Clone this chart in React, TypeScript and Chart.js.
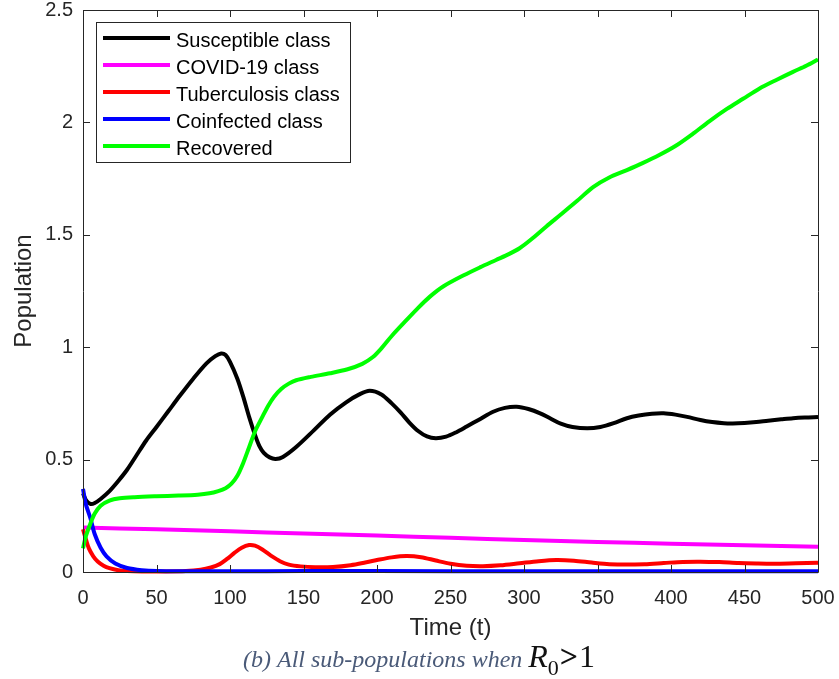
import React, { useEffect, useRef } from 'react';
import { Chart, registerables } from 'chart.js';

Chart.register(...registerables);

// ---------- data ----------
const xTicks = [0, 50, 100, 150, 200, 250, 300, 350, 400, 450, 500];
const yTicks = [0, 0.5, 1, 1.5, 2, 2.5];

const seriesLabels = ['Susceptible class', 'COVID-19 class', 'Tuberculosis class', 'Coinfected class', 'Recovered'];
const seriesColors = ['#000000', '#ff00ff', '#ff0000', '#0000ff', '#00ff00'];

const susceptibleT = [0, 2, 5, 8, 12, 18, 24, 30, 36, 43, 50, 58, 66, 75, 84, 90, 94, 97, 100, 105, 109, 113, 117, 120, 123, 127, 131, 136, 145, 157, 168, 179, 188, 195, 203, 210, 216, 222, 228, 234, 240, 247, 254, 261, 270, 279, 287, 295, 303, 311, 318, 325, 333, 343, 352, 361, 370, 378, 387, 395, 403, 411, 420, 428, 436, 442, 450, 458, 466, 475, 483, 491, 500];
const susceptibleY = [0.35, 0.32, 0.303, 0.307, 0.325, 0.36, 0.405, 0.455, 0.515, 0.585, 0.645, 0.715, 0.785, 0.86, 0.928, 0.96, 0.972, 0.965, 0.935, 0.86, 0.78, 0.69, 0.61, 0.56, 0.53, 0.51, 0.503, 0.512, 0.556, 0.63, 0.7, 0.755, 0.79, 0.806, 0.79, 0.75, 0.71, 0.665, 0.627, 0.603, 0.595, 0.602, 0.622, 0.647, 0.68, 0.713, 0.73, 0.735, 0.725, 0.706, 0.683, 0.66, 0.645, 0.639, 0.645, 0.662, 0.684, 0.696, 0.704, 0.706, 0.7, 0.69, 0.676, 0.667, 0.662, 0.661, 0.663, 0.667, 0.673, 0.679, 0.684, 0.687, 0.689];

const covidT = [0, 50, 100, 150, 200, 250, 300, 350, 400, 450, 500];
const covidY = [0.198, 0.19, 0.181, 0.171, 0.162, 0.152, 0.142, 0.134, 0.126, 0.119, 0.112];

const tbT = [0, 2, 4, 7, 10, 14, 18, 24, 30, 40, 55, 70, 80, 87, 93, 98, 103, 108, 113, 117, 122, 128, 134, 140, 148, 158, 170, 182, 192, 200, 210, 220, 230, 240, 250, 261, 272, 284, 297, 310, 322, 334, 346, 358, 370, 382, 395, 408, 420, 433, 446, 458, 470, 485, 500];
const tbY = [0.19, 0.145, 0.105, 0.07, 0.047, 0.028, 0.017, 0.008, 0.004, 0.002, 0.002, 0.004, 0.01, 0.02, 0.035, 0.058, 0.085, 0.108, 0.12, 0.117, 0.1, 0.072, 0.048, 0.033, 0.025, 0.021, 0.022, 0.03, 0.042, 0.053, 0.065, 0.071, 0.066, 0.051, 0.037, 0.028, 0.026, 0.03, 0.039, 0.048, 0.053, 0.05, 0.042, 0.035, 0.033, 0.035, 0.04, 0.045, 0.046, 0.044, 0.04, 0.038, 0.037, 0.039, 0.041];

const coinfT = [0, 2, 5, 8, 12, 16, 22, 30, 40, 50, 70, 100, 150, 200, 300, 400, 500];
const coinfY = [0.37, 0.3, 0.24, 0.168, 0.108, 0.07, 0.038, 0.018, 0.008, 0.004, 0.003, 0.003, 0.004, 0.004, 0.003, 0.003, 0.003];

const recoveredT = [0, 2, 5, 8, 12, 18, 25, 35, 50, 65, 78, 86, 92, 97, 101, 105, 109, 113, 117, 122, 126, 130, 135, 140, 145, 155, 168, 180, 190, 197, 203, 210, 220, 228, 236, 245, 259, 270, 281, 290, 297, 305, 315, 325, 336, 347, 358, 370, 381, 392, 403, 415, 426, 438, 449, 460, 472, 483, 492, 500];
const recoveredY = [0.105, 0.16, 0.215, 0.26, 0.295, 0.318, 0.328, 0.333, 0.337, 0.34, 0.344, 0.35, 0.36, 0.373, 0.393, 0.428, 0.485, 0.555, 0.625, 0.69, 0.74, 0.78, 0.815, 0.838, 0.853, 0.868, 0.884, 0.902, 0.926, 0.955, 0.995, 1.05, 1.12, 1.175, 1.225, 1.27, 1.32, 1.355, 1.388, 1.415, 1.44, 1.48, 1.536, 1.59, 1.65, 1.712, 1.755, 1.788, 1.82, 1.855, 1.895, 1.95, 2.005, 2.06, 2.105, 2.15, 2.19, 2.225, 2.252, 2.28];

const xTitle = 'Time (t)';
const yTitle = 'Population';
const captionText = '(b) All sub-populations when ';

const toPts = (t: number[], y: number[]) => t.map((x, i) => ({ x, y: y[i] }));

const AXIS = '#262626';
const SANS = '"Liberation Sans", Arial, Helvetica, sans-serif';
const SERIF = '"Liberation Serif", "Times New Roman", serif';

const decorPlugin = {
  id: 'decor',
  afterDraw(chart: any) {
    const ctx = chart.ctx as CanvasRenderingContext2D;
    const { left, right, top, bottom } = chart.chartArea;
    const xs = chart.scales.x;
    const ys = chart.scales.y;
    ctx.save();
    // box
    ctx.strokeStyle = AXIS;
    ctx.lineWidth = 1;
    ctx.beginPath();
    ctx.rect(Math.round(left) + 0.5, Math.round(top) + 0.5, Math.round(right - left), Math.round(bottom - top));
    ctx.stroke();
    // inward ticks
    const tl = 7;
    ctx.beginPath();
    xTicks.forEach((v) => {
      const px = Math.round(xs.getPixelForValue(v)) + 0.5;
      ctx.moveTo(px, bottom);
      ctx.lineTo(px, bottom - tl);
      ctx.moveTo(px, top);
      ctx.lineTo(px, top + tl);
    });
    yTicks.forEach((v) => {
      const py = Math.round(ys.getPixelForValue(v)) + 0.5;
      ctx.moveTo(left, py);
      ctx.lineTo(left + tl, py);
      ctx.moveTo(right, py);
      ctx.lineTo(right - tl, py);
    });
    ctx.stroke();

    // axis titles
    ctx.fillStyle = AXIS;
    ctx.font = `24px ${SANS}`;
    ctx.textAlign = 'center';
    ctx.textBaseline = 'middle';
    ctx.fillText(xTitle, (left + right) / 2, 628);
    ctx.save();
    ctx.translate(24, (top + bottom) / 2);
    ctx.rotate(-Math.PI / 2);
    ctx.fillText(yTitle, 0, 0);
    ctx.restore();

    // legend
    const lx = 96.5, ly = 22.5, lw = 254, lh = 140;
    ctx.fillStyle = '#ffffff';
    ctx.fillRect(lx, ly, lw, lh);
    ctx.strokeStyle = AXIS;
    ctx.lineWidth = 1;
    ctx.strokeRect(lx, ly, lw, lh);
    ctx.font = `20px ${SANS}`;
    ctx.textAlign = 'left';
    ctx.textBaseline = 'middle';
    seriesLabels.forEach((lab, i) => {
      const y = 38 + i * 27;
      ctx.strokeStyle = seriesColors[i];
      ctx.lineWidth = 4;
      ctx.beginPath();
      ctx.moveTo(103, y);
      ctx.lineTo(170, y);
      ctx.stroke();
      ctx.fillStyle = '#000000';
      ctx.fillText(lab, 176, y + 3);
    });

    // caption
    ctx.textBaseline = 'alphabetic';
    ctx.textAlign = 'left';
    ctx.font = `italic 24px ${SERIF}`;
    ctx.fillStyle = '#4a5a78';
    let cx = 243;
    ctx.fillText(captionText, cx, 667);
    cx += ctx.measureText(captionText).width;
    ctx.fillStyle = '#111111';
    ctx.font = `italic 32px ${SERIF}`;
    ctx.fillText('R', cx, 667);
    cx += ctx.measureText('R').width;
    ctx.font = `22px ${SERIF}`;
    ctx.fillText('0', cx, 675);
    cx += ctx.measureText('0').width + 1;
    ctx.font = `bold 32px ${SERIF}`;
    ctx.fillText('>', cx, 667);
    cx += ctx.measureText('>').width + 1;
    ctx.font = `32px ${SERIF}`;
    ctx.fillText('1', cx, 667);
    ctx.restore();
  },
};

const zeroPad = (s: any) => {
  s.paddingTop = 0;
  s.paddingBottom = 0;
  s.paddingLeft = 0;
  s.paddingRight = 0;
};

export default function App() {
  const ref = useRef<HTMLCanvasElement | null>(null);
  useEffect(() => {
    if (!ref.current) return;
    const mk = (i: number, t: number[], y: number[], order: number) => ({
      label: seriesLabels[i],
      data: toPts(t, y),
      borderColor: seriesColors[i],
      backgroundColor: seriesColors[i],
      borderWidth: 4,
      pointRadius: 0,
      tension: 0.3,
      fill: false,
      clip: 6,
      order,
    });
    const chart = new Chart(ref.current, {
      type: 'line',
      data: {
        datasets: [
          mk(0, susceptibleT, susceptibleY, 5),
          mk(1, covidT, covidY, 4),
          mk(2, tbT, tbY, 3),
          mk(3, coinfT, coinfY, 2),
          mk(4, recoveredT, recoveredY, 1),
        ],
      },
      options: {
        animation: false,
        responsive: false,
        events: [],
        layout: { padding: { top: 10, right: 21, left: 0, bottom: 0 } },
        plugins: { legend: { display: false }, tooltip: { enabled: false }, title: { display: false } },
        scales: {
          x: {
            type: 'linear',
            min: 0,
            max: 500,
            afterFit: (s: any) => { s.height = 107; zeroPad(s); },
            afterBuildTicks: (s: any) => { s.ticks = xTicks.map((v) => ({ value: v })); },
            ticks: { color: AXIS, font: { family: SANS, size: 20 }, padding: 14, maxRotation: 0, autoSkip: false },
            grid: { display: false, drawTicks: false },
            border: { display: false },
          },
          y: {
            type: 'linear',
            min: 0,
            max: 2.5,
            afterFit: (s: any) => { s.width = 83; zeroPad(s); },
            afterBuildTicks: (s: any) => { s.ticks = yTicks.map((v) => ({ value: v })); },
            ticks: { color: AXIS, font: { family: SANS, size: 20 }, padding: 10, autoSkip: false, callback: (v: any) => String(v) },
            grid: { display: false, drawTicks: false },
            border: { display: false },
          },
        },
      },
      plugins: [decorPlugin],
    });
    return () => chart.destroy();
  }, []);
  return (
    <div style={{ position: 'fixed', left: 0, top: 0, width: 839, height: 679, background: '#ffffff' }}>
      <canvas ref={ref} width={839} height={679} style={{ display: 'block' }} />
    </div>
  );
}
